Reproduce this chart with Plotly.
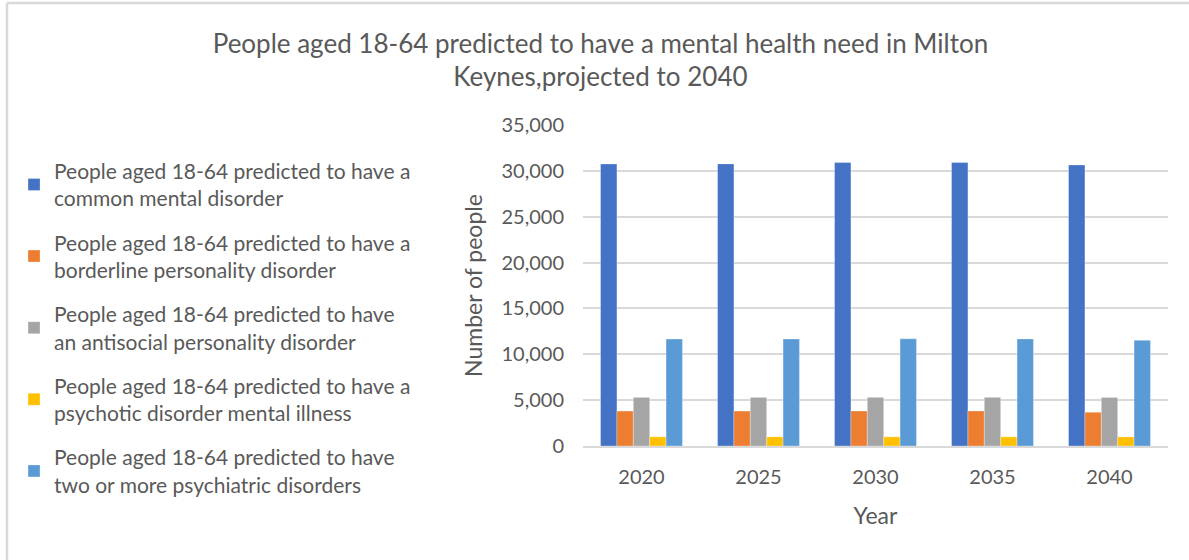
import plotly.graph_objects as go

years = ["2020", "2025", "2030", "2035", "2040"]
series_names = [
    "People aged 18-64 predicted to have a<br>common mental disorder",
    "People aged 18-64 predicted to have a<br>borderline personality disorder",
    "People aged 18-64 predicted to have<br>an antisocial personality disorder",
    "People aged 18-64 predicted to have a<br>psychotic disorder mental illness",
    "People aged 18-64 predicted to have<br>two or more psychiatric disorders",
]
common_mental = [30750, 30760, 30900, 30900, 30640]
borderline = [3810, 3810, 3820, 3820, 3680]
antisocial = [5300, 5300, 5310, 5310, 5290]
psychotic = [1000, 1000, 1000, 1000, 990]
two_or_more = [11660, 11670, 11690, 11680, 11520]
colors = ["#4472C4", "#ED7D31", "#A5A5A5", "#FFC000", "#5B9BD5"]

all_values = [common_mental, borderline, antisocial, psychotic, two_or_more]

FONT = "Lato, Calibri, sans-serif"
TXT = "#595959"

fig = go.Figure()
for i, (name, vals, col) in enumerate(zip(series_names, all_values, colors)):
    fig.add_trace(go.Bar(
        x=years, y=vals, name=name, legendgroup=f"g{i}",
        marker=dict(color=col, line=dict(width=0.6, color="rgba(255,255,255,0.5)")),
    ))

fig.update_layout(
    width=1189, height=560,
    paper_bgcolor="white", plot_bgcolor="white",
    margin=dict(l=583, r=21, t=125, b=114),
    barmode="group", bargap=0.30, bargroupgap=0,
    font=dict(family=FONT, color=TXT, size=20),
    title=dict(
        text="People aged 18-64 predicted to have a mental health need in Milton<br>Keynes,projected to 2040",
        x=0.505, xanchor="center", y=0.906, yanchor="middle",
        font=dict(family=FONT, size=26, color=TXT),
    ),
    legend=dict(
        x=-0.9726, xanchor="left", y=0.92, yanchor="top",
        font=dict(family=FONT, size=21, color=TXT),
        tracegroupgap=14, itemwidth=30, maxheight=500,
        bgcolor="rgba(0,0,0,0)",
    ),
    showlegend=True,
    xaxis=dict(
        showline=True, linecolor="#D9D9D9", linewidth=1.5,
        ticks="", ticklabelstandoff=12,
        tickfont=dict(size=20, color=TXT),
        title=dict(text="Year", font=dict(size=23, color=TXT), standoff=21),
    ),
    yaxis=dict(
        range=[0, 35000], dtick=5000, tickformat=",d",
        showgrid=True, gridcolor="#D9D9D9", gridwidth=1.5,
        zeroline=False, ticks="", ticklabelstandoff=18,
        tickfont=dict(size=20, color=TXT),
        title=dict(text="Number of people", font=dict(size=23, color=TXT), standoff=12),
    ),
    shapes=[
        dict(type="line", xref="paper", yref="paper", x0=-0.9846, x1=1.04, y0=1.380, y1=1.380,
             line=dict(color="#D9D9D9", width=2.5)),
        dict(type="line", xref="paper", yref="paper", x0=-0.9846, x1=-0.9846, y0=1.380, y1=-0.36,
             line=dict(color="#D9D9D9", width=2.5)),
    ],
)

fig.write_html(
    "out.html",
    config={"displayModeBar": False},
    post_script="document.body.style.margin='0';document.body.style.overflow='hidden';",
)
